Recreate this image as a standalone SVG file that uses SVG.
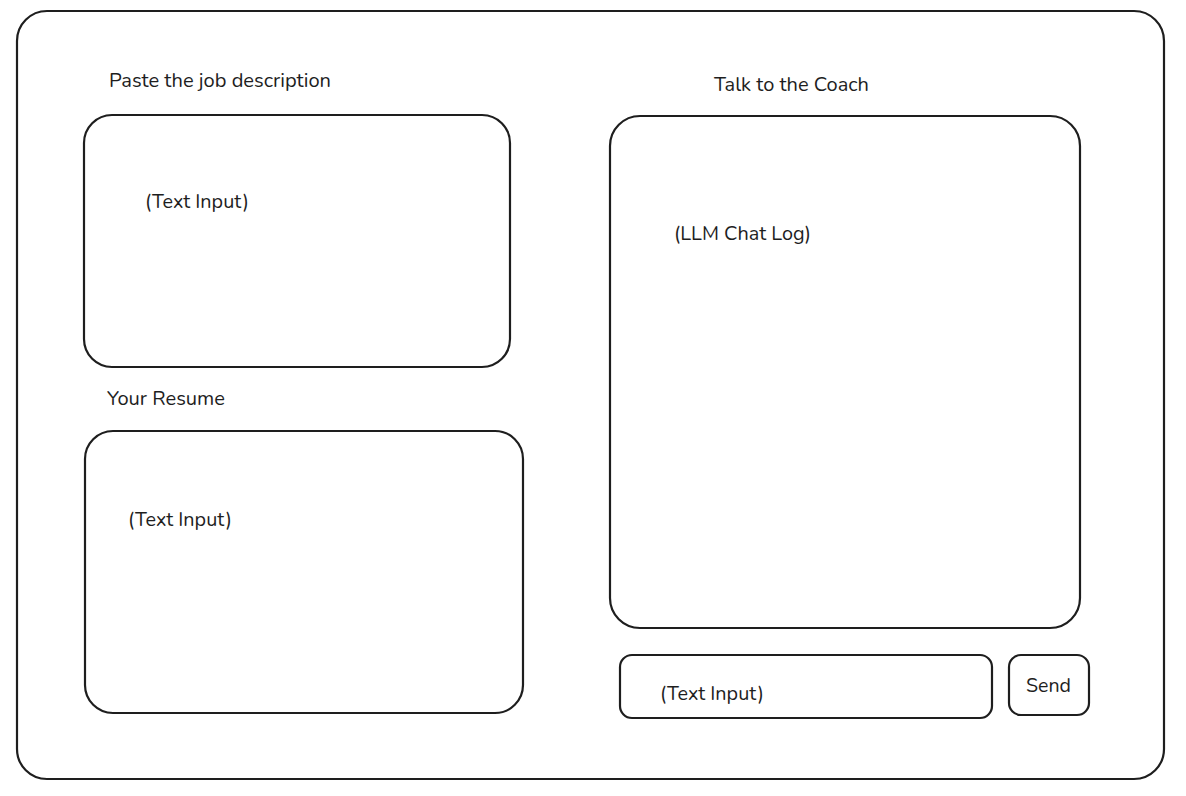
<svg xmlns="http://www.w3.org/2000/svg" width="1186" height="796" viewBox="0 0 1186 796">
<style>
.box{fill:none;stroke:#1e1e1e;stroke-width:2.2;stroke-linecap:round;stroke-linejoin:round}
.t{font-family:"Nunito","Noto Sans","Open Sans",sans-serif;font-size:19px;fill:#1e1e1e}
</style>
<rect width="1186" height="796" fill="#ffffff"/>
<g id="frame"><rect class="box" x="17" y="11" width="1147" height="768" rx="30"/></g>
<g id="job-label"><text class="t" x="109" y="87" textLength="222" lengthAdjust="spacingAndGlyphs">Paste the job description</text></g>
<g id="job-input"><rect class="box" x="84" y="115" width="426" height="252" rx="28"/><text class="t" x="145" y="208" textLength="104" lengthAdjust="spacingAndGlyphs">(Text Input)</text></g>
<g id="resume-label"><text class="t" x="107" y="405" textLength="118" lengthAdjust="spacingAndGlyphs">Your Resume</text></g>
<g id="resume-input"><rect class="box" x="85" y="431" width="438" height="282" rx="28"/><text class="t" x="128" y="526" textLength="104" lengthAdjust="spacingAndGlyphs">(Text Input)</text></g>
<g id="coach-label"><text class="t" x="714" y="91" textLength="155" lengthAdjust="spacingAndGlyphs">Talk to the Coach</text></g>
<g id="chat-log"><rect class="box" x="610" y="116" width="470" height="512" rx="30"/><text class="t" x="674" y="240" textLength="137" lengthAdjust="spacingAndGlyphs">(LLM Chat Log)</text></g>
<g id="chat-input"><rect class="box" x="620" y="655" width="372" height="63" rx="12"/><text class="t" x="660" y="700" textLength="104" lengthAdjust="spacingAndGlyphs">(Text Input)</text></g>
<g id="send-button"><rect class="box" x="1009" y="655" width="80" height="60" rx="12"/><text class="t" x="1026" y="692" textLength="45" lengthAdjust="spacingAndGlyphs">Send</text></g>
<g id="connectors"></g>
</svg>
